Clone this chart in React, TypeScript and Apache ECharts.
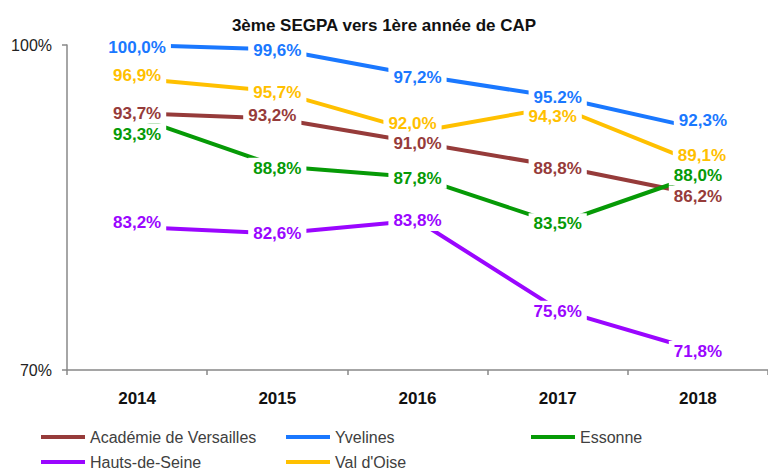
import React, { useEffect, useRef } from "react";
import * as echarts from "echarts";

const TITLE = "3ème SEGPA vers 1ère année de CAP";
const YEARS = ["2014", "2015", "2016", "2017", "2018"];
const ACADEMIE = [93.7, 93.2, 91.0, 88.8, 86.2];
const YVELINES = [100.0, 99.6, 97.2, 95.2, 92.3];
const ESSONNE = [93.3, 88.8, 87.8, 83.5, 88.0];
const HAUTS_DE_SEINE = [83.2, 82.6, 83.8, 75.6, 71.8];
const VAL_D_OISE = [96.9, 95.7, 92.0, 94.3, 89.1];
const Y_TICKS = [70, 100];

const SERIES = [
  { name: "Académie de Versailles", values: ACADEMIE, color: "#963B3A" },
  { name: "Yvelines", values: YVELINES, color: "#1A78FF" },
  { name: "Essonne", values: ESSONNE, color: "#069A06" },
  { name: "Hauts-de-Seine", values: HAUTS_DE_SEINE, color: "#9A06FF" },
  { name: "Val d'Oise", values: VAL_D_OISE, color: "#FFC000" },
];

// label nudges (px) per series / year
const LABEL_OFFSETS: number[][][] = [
  [[0, 0], [-5, -3], [0, 1], [0, 2], [0, 2]],
  [[0, 2], [0, 1], [0, 2], [0, 0], [5, -8]],
  [[0, 17], [0, 2], [0, 1], [0, 0], [0, 0]],
  [[0, -5], [0, 0], [0, 0], [0, 2], [0, 1]],
  [[0, -3], [0, 1], [-5, -8], [-5, 10], [4, -8]],
];

const LEGEND_POS = [
  [41, 429],
  [286, 429],
  [531, 429],
  [41, 454],
  [286, 454],
];

const FONT = "'Liberation Sans', Arial, sans-serif";

function fmt(seriesName: string, idx: number, v: number) {
  const s = v.toFixed(1);
  // the source shows a dot for this single label
  if (seriesName === "Yvelines" && idx === 3) return s + "%";
  return s.replace(".", ",") + "%";
}

export default function App() {
  const ref = useRef<HTMLDivElement>(null);
  useEffect(() => {
    if (!ref.current) return;
    const chart = echarts.init(ref.current, null, { renderer: "svg" });
    const lineSeries = SERIES.map((s) => ({
      type: "line",
      name: s.name,
      data: s.values,
      color: s.color,
      symbol: "none",
      lineStyle: { width: 4, color: s.color },
      z: 2,
      silent: true,
    }));
    const labelSeries = SERIES.map((s, si) => ({
      type: "scatter",
      name: "lbl_" + s.name,
      symbol: "circle",
      symbolSize: 1,
      itemStyle: { color: "rgba(0,0,0,0)", opacity: 1 },
      z: 4,
      silent: true,
      data: s.values.map((v, i) => ({
        value: [YEARS[i], v],
        label: {
          show: true,
          position: "inside",
          offset: LABEL_OFFSETS[si][i],
          formatter: fmt(s.name, i, v),
          color: s.color,
          opacity: 1,
          fontSize: 17,
          fontWeight: "bold",
          fontFamily: FONT,
          backgroundColor: "#ffffff",
          padding: [2, 5],
        },
      })),
    }));
    const legends = SERIES.map((s, i) => ({
      data: [s.name],
      left: LEGEND_POS[i][0],
      top: LEGEND_POS[i][1],
      padding: 0,
      icon: "rect",
      itemWidth: 44,
      itemHeight: 4,
      textStyle: { fontSize: 16, color: "#404040", fontFamily: FONT },
      selectedMode: false,
    }));
    chart.setOption({
      animation: false,
      backgroundColor: "#ffffff",
      title: {
        text: TITLE,
        left: "center",
        top: 12,
        textStyle: { fontSize: 17, fontWeight: "bold", color: "#111", fontFamily: FONT },
      },
      legend: legends,
      grid: { left: 67, top: 45, width: 705, height: 325 },
      xAxis: {
        type: "category",
        data: YEARS,
        boundaryGap: true,
        axisLine: { lineStyle: { color: "#888", width: 1.5 } },
        axisTick: { show: true, interval: 0, length: 5, lineStyle: { color: "#888", width: 1.5 } },
        axisLabel: { margin: 20, fontSize: 17, fontWeight: "bold", color: "#111", fontFamily: FONT },
      },
      yAxis: {
        type: "value",
        min: Y_TICKS[0],
        max: Y_TICKS[1],
        interval: Y_TICKS[1] - Y_TICKS[0],
        axisLine: { show: true, lineStyle: { color: "#888", width: 1.5 } },
        axisTick: { show: true, length: 5, lineStyle: { color: "#888", width: 1.5 } },
        splitLine: { show: false },
        axisLabel: { margin: 15, fontSize: 16, color: "#222", fontFamily: FONT, formatter: (v: number) => v + "%" },
      },
      series: [...lineSeries, ...labelSeries],
    });
    return () => chart.dispose();
  }, []);
  return (
    <div
      ref={ref}
      style={{ position: "fixed", left: 0, top: 0, width: 768, height: 472, background: "#fff" }}
    />
  );
}
